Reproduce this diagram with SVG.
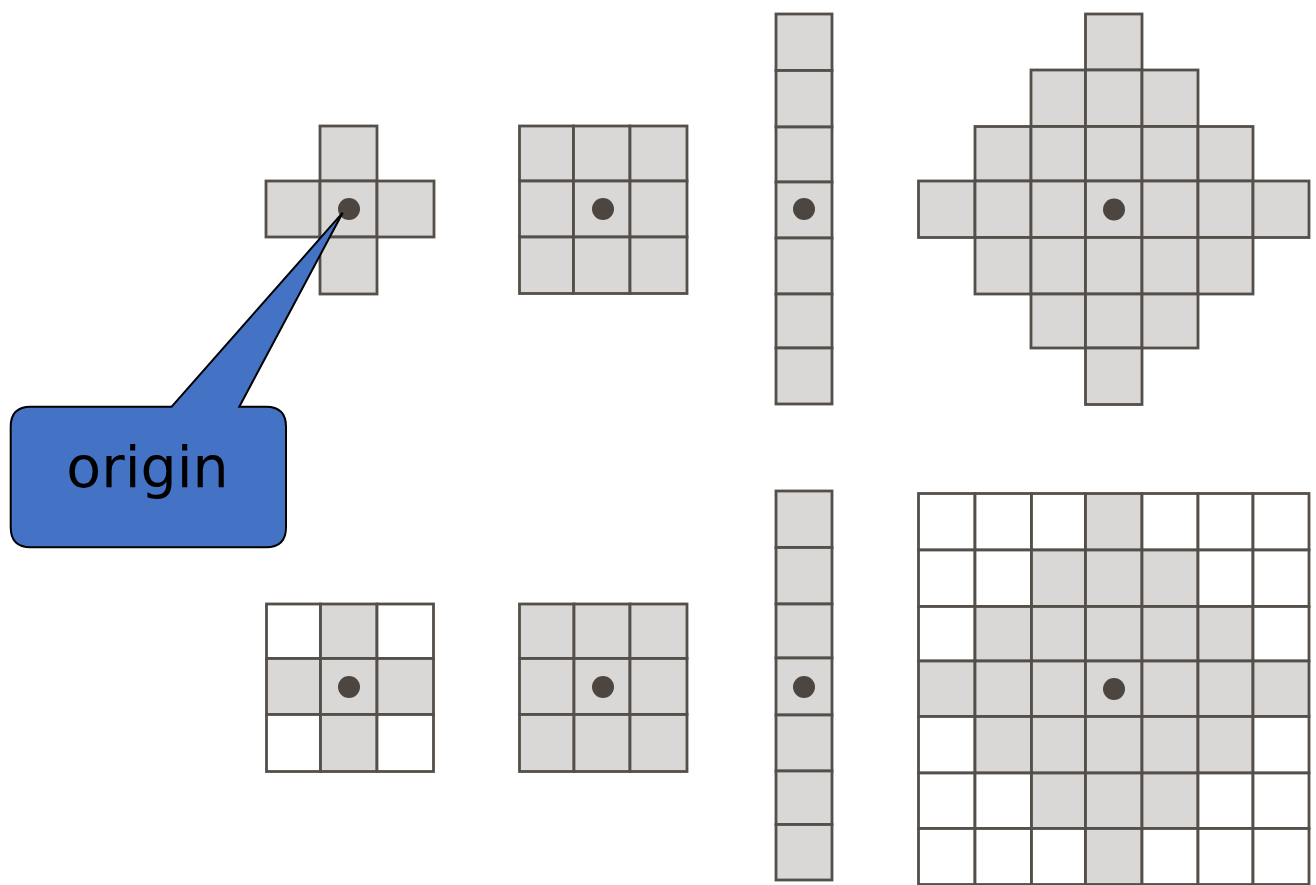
<svg xmlns="http://www.w3.org/2000/svg" width="1316" height="885" viewBox="0 0 1316 885">
<style>
.c{fill:#d9d8d7;stroke:#554f4a;stroke-width:2.8}
.w{fill:#ffffff;stroke:#554f4a;stroke-width:2.8}
.d{fill:#4d4640}
.callout{fill:#4472c4;stroke:#000;stroke-width:2;stroke-linejoin:miter}
.lbl{font-family:"DejaVu Sans","Liberation Sans",sans-serif;font-size:57px;fill:#000}
</style>
<rect width="1316" height="885" fill="#fff"/>
<g id="cross">
<rect class="c" x="320" y="126" width="57" height="55"/>
<rect class="c" x="266" y="181" width="54" height="56"/>
<rect class="c" x="320" y="181" width="57" height="56"/>
<rect class="c" x="377" y="181" width="57" height="56"/>
<rect class="c" x="320" y="237" width="57" height="57"/>
<circle class="d" cx="349" cy="209" r="11"/>
</g>
<g id="square-top">
<rect class="c" x="519.5" y="126" width="54" height="55"/>
<rect class="c" x="573.5" y="126" width="56.5" height="55"/>
<rect class="c" x="630" y="126" width="57" height="55"/>
<rect class="c" x="519.5" y="181" width="54" height="56"/>
<rect class="c" x="573.5" y="181" width="56.5" height="56"/>
<rect class="c" x="630" y="181" width="57" height="56"/>
<rect class="c" x="519.5" y="237" width="54" height="56.5"/>
<rect class="c" x="573.5" y="237" width="56.5" height="56.5"/>
<rect class="c" x="630" y="237" width="57" height="56.5"/>
<circle class="d" cx="603" cy="209" r="11"/>
</g>
<g id="bar-top">
<rect class="c" x="776" y="14" width="56" height="56.5"/>
<rect class="c" x="776" y="70.5" width="56" height="56.5"/>
<rect class="c" x="776" y="127" width="56" height="55"/>
<rect class="c" x="776" y="182" width="56" height="56"/>
<rect class="c" x="776" y="238" width="56" height="56"/>
<rect class="c" x="776" y="294" width="56" height="54"/>
<rect class="c" x="776" y="348" width="56" height="56"/>
<circle class="d" cx="804" cy="209" r="11"/>
</g>
<g id="diamond">
<rect class="c" x="1085.5" y="14" width="56.5" height="56"/>
<rect class="c" x="1031" y="70" width="54.5" height="56.5"/>
<rect class="c" x="1085.5" y="70" width="56.5" height="56.5"/>
<rect class="c" x="1142" y="70" width="56" height="56.5"/>
<rect class="c" x="975" y="126.5" width="56" height="54.5"/>
<rect class="c" x="1031" y="126.5" width="54.5" height="54.5"/>
<rect class="c" x="1085.5" y="126.5" width="56.5" height="54.5"/>
<rect class="c" x="1142" y="126.5" width="56" height="54.5"/>
<rect class="c" x="1198" y="126.5" width="55" height="54.5"/>
<rect class="c" x="918.5" y="181" width="56.5" height="56.5"/>
<rect class="c" x="975" y="181" width="56" height="56.5"/>
<rect class="c" x="1031" y="181" width="54.5" height="56.5"/>
<rect class="c" x="1085.5" y="181" width="56.5" height="56.5"/>
<rect class="c" x="1142" y="181" width="56" height="56.5"/>
<rect class="c" x="1198" y="181" width="55" height="56.5"/>
<rect class="c" x="1253" y="181" width="56" height="56.5"/>
<rect class="c" x="975" y="237.5" width="56" height="56.5"/>
<rect class="c" x="1031" y="237.5" width="54.5" height="56.5"/>
<rect class="c" x="1085.5" y="237.5" width="56.5" height="56.5"/>
<rect class="c" x="1142" y="237.5" width="56" height="56.5"/>
<rect class="c" x="1198" y="237.5" width="55" height="56.5"/>
<rect class="c" x="1031" y="294" width="54.5" height="54"/>
<rect class="c" x="1085.5" y="294" width="56.5" height="54"/>
<rect class="c" x="1142" y="294" width="56" height="54"/>
<rect class="c" x="1085.5" y="348" width="56.5" height="56.5"/>
<circle class="d" cx="1114" cy="209.5" r="11"/>
</g>
<g id="cross-square">
<rect class="w" x="266.5" y="604" width="54" height="54.5"/>
<rect class="c" x="320.5" y="604" width="56.5" height="54.5"/>
<rect class="w" x="377" y="604" width="56.5" height="54.5"/>
<rect class="c" x="266.5" y="658.5" width="54" height="56"/>
<rect class="c" x="320.5" y="658.5" width="56.5" height="56"/>
<rect class="c" x="377" y="658.5" width="56.5" height="56"/>
<rect class="w" x="266.5" y="714.5" width="54" height="57"/>
<rect class="c" x="320.5" y="714.5" width="56.5" height="57"/>
<rect class="w" x="377" y="714.5" width="56.5" height="57"/>
<circle class="d" cx="349" cy="687" r="11"/>
</g>
<g id="square-bottom">
<rect class="c" x="519.5" y="604" width="54.5" height="54.5"/>
<rect class="c" x="574" y="604" width="56" height="54.5"/>
<rect class="c" x="630" y="604" width="57" height="54.5"/>
<rect class="c" x="519.5" y="658.5" width="54.5" height="56"/>
<rect class="c" x="574" y="658.5" width="56" height="56"/>
<rect class="c" x="630" y="658.5" width="57" height="56"/>
<rect class="c" x="519.5" y="714.5" width="54.5" height="57"/>
<rect class="c" x="574" y="714.5" width="56" height="57"/>
<rect class="c" x="630" y="714.5" width="57" height="57"/>
<circle class="d" cx="603" cy="687" r="11"/>
</g>
<g id="bar-bottom">
<rect class="c" x="776" y="491" width="56" height="56.5"/>
<rect class="c" x="776" y="547.5" width="56" height="56.5"/>
<rect class="c" x="776" y="604" width="56" height="54"/>
<rect class="c" x="776" y="658" width="56" height="57"/>
<rect class="c" x="776" y="715" width="56" height="56"/>
<rect class="c" x="776" y="771" width="56" height="53.5"/>
<rect class="c" x="776" y="824.5" width="56" height="55.5"/>
<circle class="d" cx="804" cy="687" r="11"/>
</g>
<g id="grid-bottom">
<rect class="w" x="918.5" y="493.5" width="56.5" height="56.5"/>
<rect class="w" x="975" y="493.5" width="56.5" height="56.5"/>
<rect class="w" x="1031.5" y="493.5" width="54" height="56.5"/>
<rect class="c" x="1085.5" y="493.5" width="56.5" height="56.5"/>
<rect class="w" x="1142" y="493.5" width="56" height="56.5"/>
<rect class="w" x="1198" y="493.5" width="55" height="56.5"/>
<rect class="w" x="1253" y="493.5" width="56" height="56.5"/>
<rect class="w" x="918.5" y="550" width="56.5" height="56.5"/>
<rect class="w" x="975" y="550" width="56.5" height="56.5"/>
<rect class="c" x="1031.5" y="550" width="54" height="56.5"/>
<rect class="c" x="1085.5" y="550" width="56.5" height="56.5"/>
<rect class="c" x="1142" y="550" width="56" height="56.5"/>
<rect class="w" x="1198" y="550" width="55" height="56.5"/>
<rect class="w" x="1253" y="550" width="56" height="56.5"/>
<rect class="w" x="918.5" y="606.5" width="56.5" height="54.5"/>
<rect class="c" x="975" y="606.5" width="56.5" height="54.5"/>
<rect class="c" x="1031.5" y="606.5" width="54" height="54.5"/>
<rect class="c" x="1085.5" y="606.5" width="56.5" height="54.5"/>
<rect class="c" x="1142" y="606.5" width="56" height="54.5"/>
<rect class="c" x="1198" y="606.5" width="55" height="54.5"/>
<rect class="w" x="1253" y="606.5" width="56" height="54.5"/>
<rect class="c" x="918.5" y="661" width="56.5" height="55.5"/>
<rect class="c" x="975" y="661" width="56.5" height="55.5"/>
<rect class="c" x="1031.5" y="661" width="54" height="55.5"/>
<rect class="c" x="1085.5" y="661" width="56.5" height="55.5"/>
<rect class="c" x="1142" y="661" width="56" height="55.5"/>
<rect class="c" x="1198" y="661" width="55" height="55.5"/>
<rect class="c" x="1253" y="661" width="56" height="55.5"/>
<rect class="w" x="918.5" y="716.5" width="56.5" height="56.5"/>
<rect class="c" x="975" y="716.5" width="56.5" height="56.5"/>
<rect class="c" x="1031.5" y="716.5" width="54" height="56.5"/>
<rect class="c" x="1085.5" y="716.5" width="56.5" height="56.5"/>
<rect class="c" x="1142" y="716.5" width="56" height="56.5"/>
<rect class="c" x="1198" y="716.5" width="55" height="56.5"/>
<rect class="w" x="1253" y="716.5" width="56" height="56.5"/>
<rect class="w" x="918.5" y="773" width="56.5" height="55.5"/>
<rect class="w" x="975" y="773" width="56.5" height="55.5"/>
<rect class="c" x="1031.5" y="773" width="54" height="55.5"/>
<rect class="c" x="1085.5" y="773" width="56.5" height="55.5"/>
<rect class="c" x="1142" y="773" width="56" height="55.5"/>
<rect class="w" x="1198" y="773" width="55" height="55.5"/>
<rect class="w" x="1253" y="773" width="56" height="55.5"/>
<rect class="w" x="918.5" y="828.5" width="56.5" height="56"/>
<rect class="w" x="975" y="828.5" width="56.5" height="56"/>
<rect class="w" x="1031.5" y="828.5" width="54" height="56"/>
<rect class="c" x="1085.5" y="828.5" width="56.5" height="56"/>
<rect class="w" x="1142" y="828.5" width="56" height="56"/>
<rect class="w" x="1198" y="828.5" width="55" height="56"/>
<rect class="w" x="1253" y="828.5" width="56" height="56"/>
<circle class="d" cx="1114" cy="689" r="11"/>
</g>
<g id="connectors"></g>
<g id="origin-callout">
<path class="callout" d="M171.7 406.7 L342.7 212.7 L239.3 406.7 L266 406.7 Q286 406.7 286 426.7 L286 527.3 Q286 547.3 266 547.3 L30.7 547.3 Q10.7 547.3 10.7 527.3 L10.7 426.7 Q10.7 406.7 30.7 406.7 Z"/>
<text class="lbl" x="147.5" y="487" text-anchor="middle">origin</text>
</g>
</svg>
